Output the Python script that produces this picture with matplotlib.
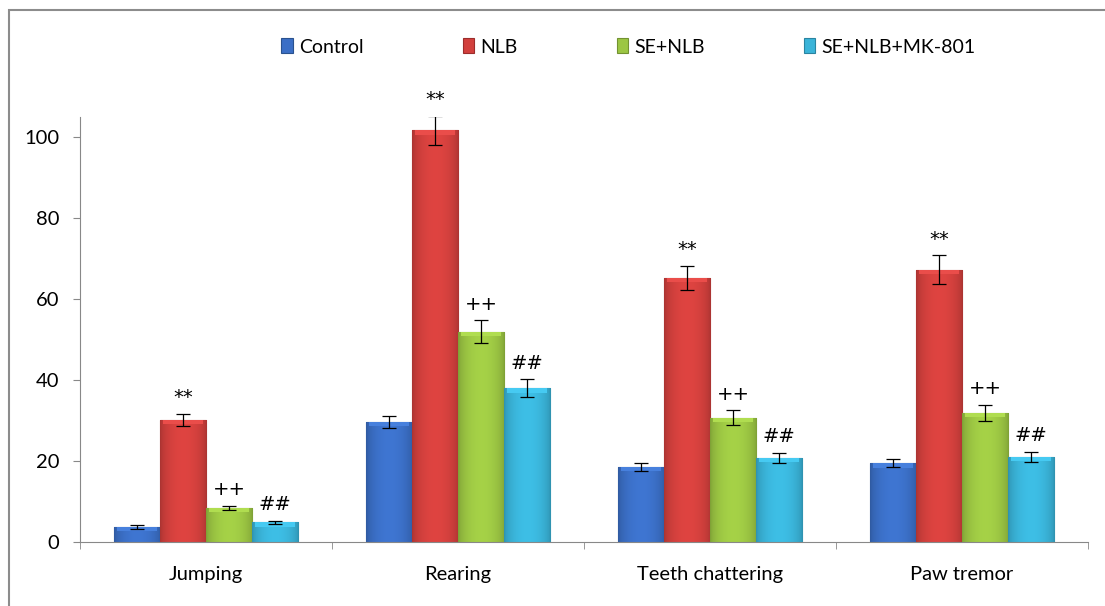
import numpy as np
import matplotlib
matplotlib.use("Agg")
import matplotlib.pyplot as plt
from matplotlib.colors import to_rgb
from matplotlib.patches import Rectangle

categories = ["Jumping", "Rearing", "Teeth chattering", "Paw tremor"]
groups = ["Control", "NLB", "SE+NLB", "SE+NLB+MK-801"]
control = [3.7, 29.7, 18.6, 19.5]
nlb = [30.2, 101.7, 65.3, 67.3]
se_nlb = [8.4, 52.0, 30.7, 31.9]
se_nlb_mk = [4.9, 38.0, 20.8, 21.0]
control_err = [0.4, 1.5, 1.0, 0.9]
nlb_err = [1.5, 3.5, 3.0, 3.5]
se_nlb_err = [0.6, 2.8, 1.8, 2.0]
se_nlb_mk_err = [0.4, 2.2, 1.2, 1.2]
marks = ["", "**", "++", "##"]

colors = ["#3b6fc6", "#d2403d", "#9cc643", "#3ab4d9"]
edges = ["#2a528f", "#9c2d2b", "#739231", "#2a84a1"]

plt.rcParams["font.family"] = ["Lato", "DejaVu Sans"]
fig = plt.figure(figsize=(11.05, 6.06), dpi=100)
fig.patches.append(Rectangle((9 / 1105, -0.1), 1.1, 1.1 - 10 / 606,
                             transform=fig.transFigure, fill=False,
                             edgecolor="#8c8c8c", lw=1.5))
ax = fig.add_axes([80 / 1105, 1 - 542 / 606, 1008 / 1105, (542 - 117) / 606])


def shade(bar, base):
    # bevel look: darker sides, lighter middle, soft top rim
    r, g, b = to_rgb(base)
    t = np.linspace(0, 1, 40)
    prof = 0.82 + 0.24 * np.sin(np.pi * t) ** 0.6
    img = np.clip(np.stack([np.outer(np.ones(2), prof * c) for c in (r, g, b)], -1), 0, 1)
    x0, y0 = bar.get_x(), bar.get_y()
    w, h = bar.get_width(), bar.get_height()
    im = ax.imshow(img, extent=(x0, x0 + w, y0, y0 + h), aspect="auto",
                   zorder=2.1, interpolation="bilinear")
    im.set_clip_path(bar)
    cap = min(1.1, h * 0.3)
    ax.add_patch(Rectangle((x0 + w * 0.07, y0 + h - cap), w * 0.86, cap,
                           color=tuple(min(1, c * 1.08 + 0.03) for c in (r, g, b)),
                           lw=0, zorder=2.2))


x = np.arange(len(categories))
width = 0.183
series = [control, nlb, se_nlb, se_nlb_mk]
errs = [control_err, nlb_err, se_nlb_err, se_nlb_mk_err]
for i, (vals, err) in enumerate(zip(series, errs)):
    pos = x + (i - 1.5) * width
    bars = ax.bar(pos, vals, width, color=colors[i], edgecolor=edges[i], lw=0.8,
                  label=groups[i], zorder=2)
    for bar in bars:
        shade(bar, colors[i])
    ax.errorbar(pos, vals, yerr=err, fmt="none", ecolor="black", elinewidth=0.9,
                capsize=5, capthick=0.9, zorder=3)
    if marks[i]:
        for p, v, e in zip(pos, vals, err):
            ax.text(p, v + e + 4.0, marks[i], ha="center", va="center",
                    fontsize=14, family="DejaVu Sans")

ax.set_xlim(-0.5, len(categories) - 0.5)
ax.set_ylim(0, 105)
ax.set_yticks(np.arange(0, 101, 20))
ax.set_xticks(x)
ax.set_xticklabels(categories, fontsize=14.5)
ax.set_xticks(np.arange(-0.5, len(categories)), minor=True)
ax.tick_params(axis="x", which="major", length=0, pad=17)
ax.tick_params(axis="x", which="minor", length=5, color="#888888")
ax.tick_params(axis="y", labelsize=14.5, length=5, color="#888888", pad=10)
for s in ["top", "right"]:
    ax.spines[s].set_visible(False)
for s in ["left", "bottom"]:
    ax.spines[s].set_color("#888888")

ax.legend(ncol=4, loc="center", bbox_to_anchor=(0.544, 1 + (117 - 47) / 425),
          frameon=False, fontsize=14, handlelength=0.6, handleheight=0.8,
          columnspacing=5.1, handletextpad=0.3)

fig.savefig("out.png", dpi=100)
